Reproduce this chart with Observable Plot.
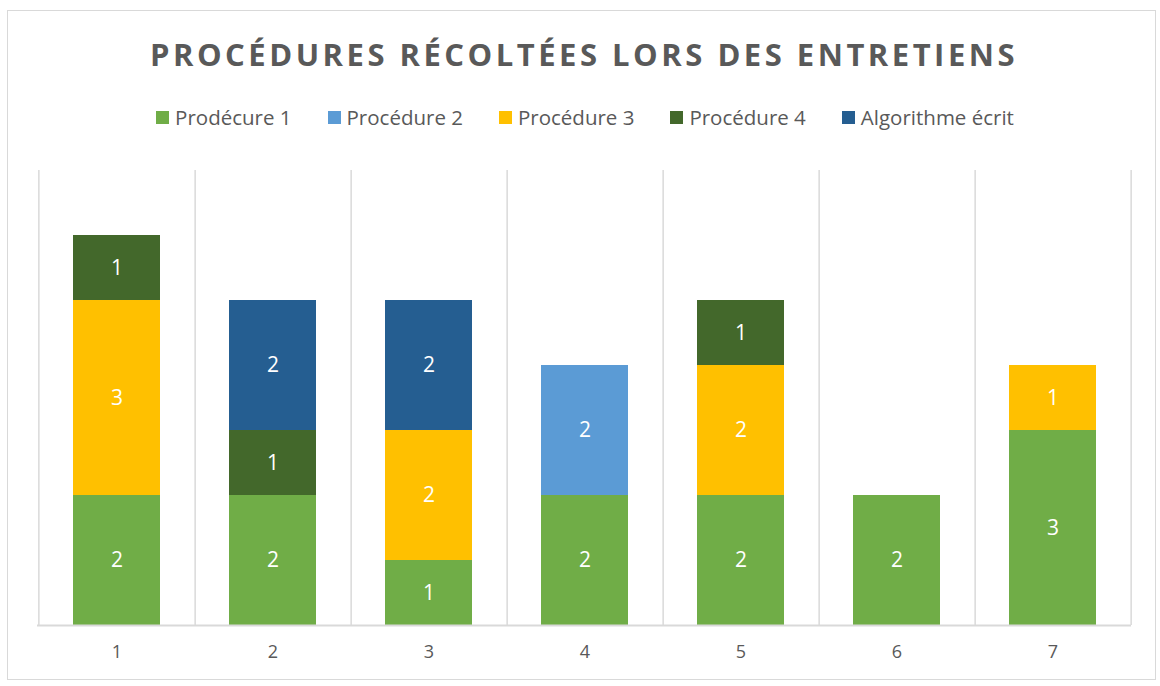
<!DOCTYPE html>
<html>
<head>
<meta charset="utf-8">
<script src="https://cdn.jsdelivr.net/npm/d3@7"></script>
<script src="https://cdn.jsdelivr.net/npm/@observablehq/plot@0.6"></script>
<style>
  html, body { margin: 0; padding: 0; background: #fff; }
  #wrap { position: relative; width: 1160px; height: 686px; overflow: hidden; font-family: "Open Sans", sans-serif; }
  #frame { position: absolute; left: 7px; top: 10px; width: 1149px; height: 670px; border: 1.5px solid #d9d9d9; box-sizing: border-box; }
  #title { position: absolute; left: 0; top: 34px; width: 1160px; text-align: center; font-weight: 700; font-size: 31px; letter-spacing: 3.5px; color: #595959; line-height: 40px; padding-left: 4px; }
  #legend { position: absolute; left: 0; top: 103px; width: 1160px; display: flex; justify-content: center; gap: 36px; font-size: 20.5px; color: #595959; line-height: 28px; padding-left: 10px; box-sizing: border-box; }
  .item { display: flex; align-items: center; }
  .sw { width: 13px; height: 13px; margin-right: 6px; }
  #chart { position: absolute; left: 0; top: 160px; }
</style>
</head>
<body>
<div id="wrap">
  <div id="frame"></div>
  <div id="title">PROCÉDURES RÉCOLTÉES LORS DES ENTRETIENS</div>
  <div id="legend"></div>
  <div id="chart"></div>
</div>
<script>
const categories = ["1", "2", "3", "4", "5", "6", "7"];
const seriesNames = ["Prodécure 1", "Procédure 2", "Procédure 3", "Procédure 4", "Algorithme écrit"];
const seriesColors = ["#70AD47", "#5B9BD5", "#FFC000", "#43682B", "#255E91"];
const prodecure1 = [2, 2, 1, 2, 2, 2, 3];
const procedure2 = [0, 0, 0, 2, 0, 0, 0];
const procedure3 = [3, 0, 2, 0, 2, 0, 1];
const procedure4 = [1, 1, 0, 0, 1, 0, 0];
const algorithme = [0, 2, 2, 0, 0, 0, 0];
const yTicks = [0, 7];

const seriesValues = [prodecure1, procedure2, procedure3, procedure4, algorithme];
const data = [];
seriesNames.forEach((s, si) => {
  categories.forEach((c, ci) => {
    const v = seriesValues[si][ci];
    if (v > 0) data.push({cat: c, series: s, value: v});
  });
});

// legend
const legend = document.getElementById("legend");
seriesNames.forEach((s, i) => {
  const it = document.createElement("div");
  it.className = "item";
  it.innerHTML = `<span class="sw" style="background:${seriesColors[i]}"></span><span>${s}</span>`;
  legend.appendChild(it);
});

const W = 1160, H = 526;
const mL = 37, mR = 29, mT = 10, mB = 61;
const step = (W - mL - mR) / categories.length;

const chart = Plot.plot({
  width: W,
  height: H,
  marginLeft: mL,
  marginRight: mR,
  marginTop: mT,
  marginBottom: mB,
  style: {fontFamily: "'Open Sans', sans-serif", background: "transparent"},
  x: {domain: categories, paddingInner: 0.443, paddingOuter: 0.2215, label: null},
  y: {domain: yTicks, axis: null},
  color: {domain: seriesNames, range: seriesColors},
  marks: [
    Plot.ruleX(categories, {x: d => d, dx: step / 2, stroke: "#d9d9d9", strokeWidth: 1.5}),
    Plot.ruleX([categories[0]], {x: d => d, dx: -step / 2, stroke: "#d9d9d9", strokeWidth: 1.5}),
    Plot.barY(data, Plot.stackY({x: "cat", y: "value", fill: "series", order: seriesNames})),
    Plot.text(data, Plot.stackY({x: "cat", y: "value", z: "series", order: seriesNames, text: d => String(d.value), fill: "white", fontSize: 21})),
    Plot.ruleY([0], {stroke: "#d9d9d9", strokeWidth: 2}),
    Plot.axisX({tickSize: 0, tickPadding: 20, fontSize: 18, fill: "#595959"})
  ]
});
document.getElementById("chart").appendChild(chart);
</script>
</body>
</html>
